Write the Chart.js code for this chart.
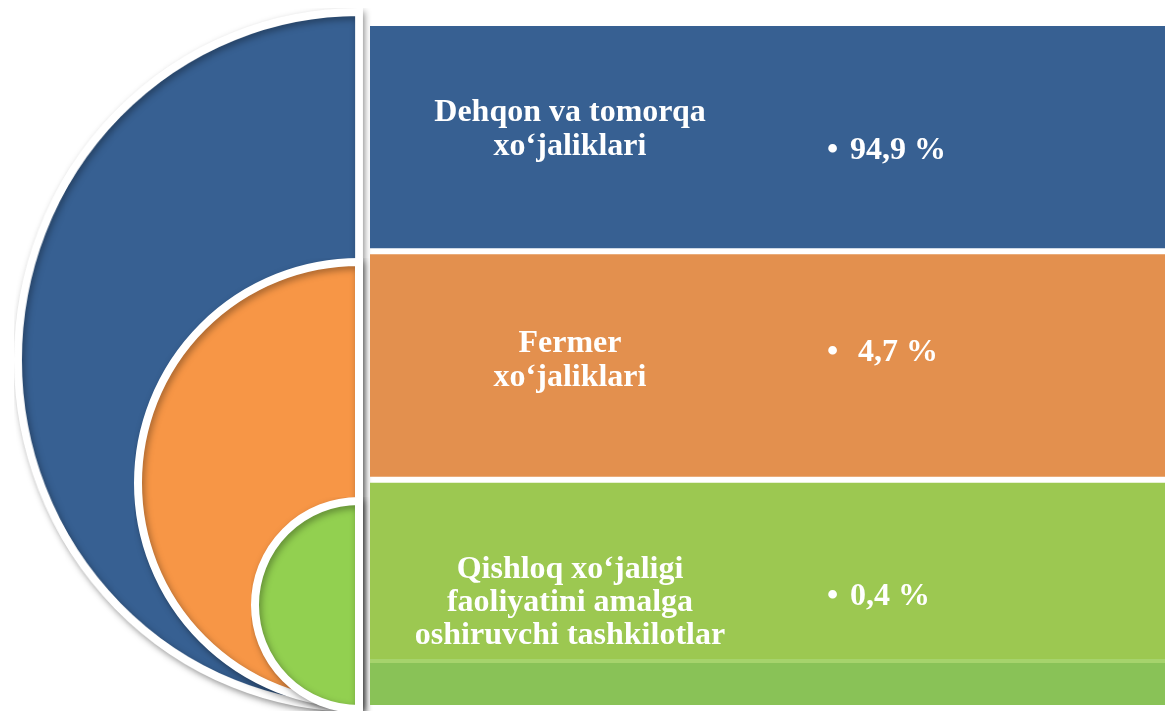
<!DOCTYPE html>
<html>
<head>
<meta charset="utf-8">
<script src="https://cdn.jsdelivr.net/npm/chart.js@4.4.0/dist/chart.umd.min.js"></script>
<style>
  html, body { margin: 0; padding: 0; background: #fff; width: 1165px; height: 711px; overflow: hidden; }
  canvas { position: absolute; }
</style>
</head>
<body>
<canvas id="semi0"></canvas>
<canvas id="semi1"></canvas>
<canvas id="semi2"></canvas>
<canvas id="panels" width="795" height="711" style="left:370px;top:0"></canvas>
<script>
// data
const categories = [
  ['Dehqon va tomorqa', 'xo‘jaliklari'],
  ['Fermer', 'xo‘jaliklari'],
  ['Qishloq xo‘jaligi', 'faoliyatini amalga', 'oshiruvchi tashkilotlar']
];
const shares = [94.9, 4.7, 0.4];
const shareLabels = ['94,9 %', ' 4,7 %', '0,4 %'];
const panelSpan = [100, 100, 100]; // every panel runs full width

// colours
const semiColors = ['#376092', '#f79646', '#92d050'];
const panelColors = ['#376092', '#e3904e', '#9cc851'];

// half discs: center x/y, fill radius, horizontal squeeze
const semiLayout = [
  {cx: 359, cy: 360, r: 344, sx: 0.98},
  {cx: 359, cy: 483, r: 217, sx: 1},
  {cx: 359, cy: 605, r: 100, sx: 1}
];
const BW = 8, PAD = 10;

// soft shadow under half discs
const shadowPlugin = {
  id: 'shadow',
  beforeDatasetsDraw(chart) {
    const ctx = chart.ctx;
    ctx.save();
    ctx.shadowColor = 'rgba(0,0,0,0.35)';
    ctx.shadowBlur = 7;
    ctx.shadowOffsetX = 2;
    ctx.shadowOffsetY = 3;
  },
  afterDatasetsDraw(chart) {
    chart.ctx.restore();
  }
};

semiLayout.forEach(function(l, i) {
  const canvas = document.getElementById('semi' + i);
  const r = l.r + BW / 2;
  const w = r + BW, h = 2 * r + BW;
  canvas.width = w + PAD;
  canvas.height = h + PAD;
  canvas.style.left = (l.cx - r - BW / 2) + 'px';
  canvas.style.top = (l.cy - r - BW / 2) + 'px';
  canvas.style.transform = 'scaleX(' + l.sx + ')';
  canvas.style.transformOrigin = (r + BW / 2) + 'px 50%';

  new Chart(canvas, {
    type: 'pie',
    data: {
      labels: [categories[i].join(' ')],
      datasets: [{
        data: [shares[i]],
        backgroundColor: [semiColors[i]],
        borderColor: '#ffffff',
        borderWidth: BW,
        borderJoinStyle: 'miter',
        hoverOffset: 0
      }]
    },
    options: {
      responsive: false,
      animation: false,
      rotation: 180,
      circumference: 180,
      layout: { padding: { right: PAD, bottom: PAD } },
      plugins: { legend: { display: false }, tooltip: { enabled: false } },
      events: []
    },
    plugins: [shadowPlugin]
  });
});

// panel texts
const titleX = 200, lineH = 34, bulletX = 457, pctX = 480;
const titleBase = [121, 352, 578];
const pctBase = [159, 361, 605];

const panelText = {
  id: 'panelText',
  afterDatasetsDraw(chart) {
    const ctx = chart.ctx;
    const meta = chart.getDatasetMeta(0);
    const left = chart.chartArea.left;

    // darker strip at the foot of the last panel
    const g = meta.data[2].getProps(['x', 'y', 'base', 'height'], true);
    const bottom = g.y + g.height / 2;
    ctx.fillStyle = '#89c257';
    ctx.fillRect(g.base, bottom - 45, g.x - g.base, 45);
    ctx.fillStyle = '#a6d36c';
    ctx.fillRect(g.base, bottom - 46, g.x - g.base, 4);

    ctx.fillStyle = '#ffffff';
    ctx.font = 'bold 32px "Liberation Serif", "Times New Roman", serif';
    ctx.textBaseline = 'alphabetic';
    categories.forEach(function(lines, i) {
      ctx.textAlign = 'center';
      lines.forEach(function(line, k) {
        ctx.fillText(line, left + titleX, titleBase[i] + k * (i == 2 ? 33 : lineH));
      });
      ctx.textAlign = 'left';
      ctx.fillText('•', left + bulletX, pctBase[i]);
      ctx.fillText(shareLabels[i], left + pctX, pctBase[i]);
    });
  }
};

new Chart(document.getElementById('panels'), {
  type: 'bar',
  data: {
    labels: categories.map(function(c) { return c.join(' '); }),
    datasets: [{
      data: panelSpan,
      backgroundColor: panelColors,
      borderWidth: 0,
      barPercentage: 1,
      categoryPercentage: 0.9737
    }]
  },
  options: {
    indexAxis: 'y',
    responsive: false,
    animation: false,
    layout: { padding: { top: 23, bottom: 3, left: 0, right: 0 } },
    scales: {
      x: { display: false, min: 0, max: 100 },
      y: { display: false }
    },
    plugins: { legend: { display: false }, tooltip: { enabled: false } },
    events: []
  },
  plugins: [panelText]
});
</script>
</body>
</html>
